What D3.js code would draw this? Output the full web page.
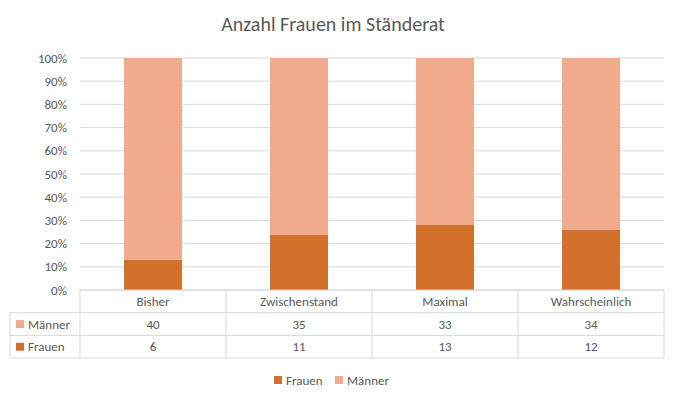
<!DOCTYPE html>
<html><head><meta charset="utf-8">
<script src="https://cdn.jsdelivr.net/npm/d3@7"></script>
<style>body{margin:0;background:#fff}text{font-family:Calibri,Carlito,"Liberation Sans",sans-serif}</style>
</head><body><svg id="chart" width="680" height="402"></svg>
<script>
const categories = ['Bisher', 'Zwischenstand', 'Maximal', 'Wahrscheinlich'];
const frauen = [6, 11, 13, 12];
const maenner = [40, 35, 33, 34];
const ticks = [0, 0.1, 0.2, 0.3, 0.4, 0.5, 0.6, 0.7, 0.8, 0.9, 1];
const series = [
  { name: 'Frauen', values: frauen, color: '#D2702C' },
  { name: 'Männer', values: maenner, color: '#F2AA8C' }
];

const svg = d3.select('#chart');
const plotLeft = 80, plotRight = 664, plotTop = 58, plotBottom = 290, rowH = 22.7, labelX = 10;

const x = d3.scaleBand().domain(categories).range([plotLeft, plotRight]).paddingInner(0).paddingOuter(0);
const y = d3.scaleLinear().domain([0, 1]).range([plotBottom, plotTop]);
const grey = '#D9D9D9', txt = '#595959';

svg.append('text').attr('x', 333).attr('y', 31).attr('text-anchor', 'middle')
  .attr('font-size', 20).attr('fill', txt).text('Anzahl Frauen im Ständerat');

// gridlines + y labels
svg.append('g').selectAll('line').data(ticks).join('line')
  .attr('x1', plotLeft).attr('x2', plotRight).attr('y1', d => y(d)).attr('y2', d => y(d))
  .attr('stroke', grey);
svg.append('g').selectAll('text').data(ticks).join('text')
  .attr('x', 67).attr('y', d => y(d) + 4.5).attr('text-anchor', 'end')
  .attr('font-size', 13).attr('fill', txt).text(d => d3.format('.0%')(d));

// stacked 100% bars
const totals = categories.map((c, i) => frauen[i] + maenner[i]);
const bw = 58;
categories.forEach((c, i) => {
  let acc = 0;
  series.forEach(s => {
    const v = s.values[i] / totals[i];
    svg.append('rect').attr('x', x(c) + (x.bandwidth() - bw) / 2).attr('width', bw)
      .attr('y', y(acc + v)).attr('height', y(acc) - y(acc + v)).attr('fill', s.color);
    acc += v;
  });
});

// data table
const t = svg.append('g').attr('stroke', grey).attr('fill', 'none');
t.append('line').attr('x1', plotLeft).attr('x2', plotRight).attr('y1', plotBottom).attr('y2', plotBottom);
[1, 2, 3].forEach(r => t.append('line').attr('x1', labelX).attr('x2', plotRight)
  .attr('y1', plotBottom + r * rowH).attr('y2', plotBottom + r * rowH));
t.append('line').attr('x1', labelX).attr('x2', labelX).attr('y1', plotBottom + rowH).attr('y2', plotBottom + 3 * rowH);
d3.range(categories.length + 1).forEach(i => {
  const xx = plotLeft + i * x.bandwidth();
  t.append('line').attr('x1', xx).attr('x2', xx).attr('y1', plotBottom).attr('y2', plotBottom + 3 * rowH);
});
categories.forEach(c => {
  svg.append('text').attr('x', x(c) + x.bandwidth() / 2).attr('y', plotBottom + rowH / 2 + 4.5)
    .attr('text-anchor', 'middle').attr('font-size', 13).attr('fill', txt).text(c);
});
const rows = [series[1], series[0]];
rows.forEach((s, r) => {
  const cy = plotBottom + (r + 1) * rowH + rowH / 2;
  svg.append('rect').attr('x', 16).attr('y', cy - 4).attr('width', 8).attr('height', 8).attr('fill', s.color);
  svg.append('text').attr('x', 28).attr('y', cy + 4.5).attr('font-size', 13).attr('fill', txt).text(s.name);
  categories.forEach((c, i) => {
    svg.append('text').attr('x', x(c) + x.bandwidth() / 2).attr('y', cy + 4.5)
      .attr('text-anchor', 'middle').attr('font-size', 13).attr('fill', txt).text(s.values[i]);
  });
});

// legend
const lg = [{ s: series[0], x: 274 }, { s: series[1], x: 335 }];
lg.forEach(d => {
  svg.append('rect').attr('x', d.x).attr('y', 376).attr('width', 8).attr('height', 8).attr('fill', d.s.color);
  svg.append('text').attr('x', d.x + 12).attr('y', 385).attr('font-size', 13).attr('fill', txt).text(d.s.name);
});
</script></body></html>
